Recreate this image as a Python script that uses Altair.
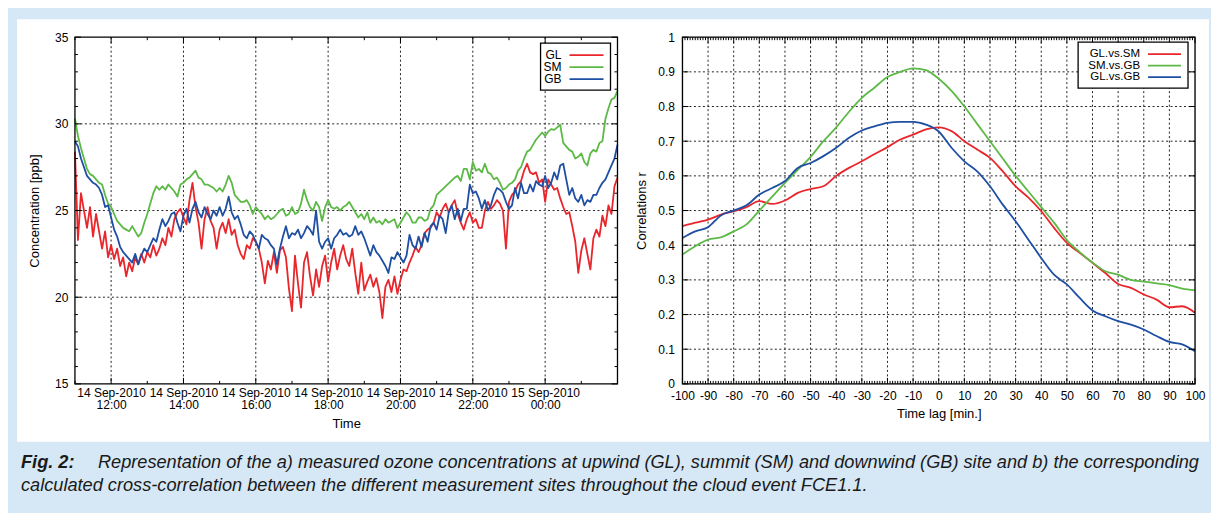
import altair as alt
import pandas as pd

# ---------------- colours ----------------
BG = "#d6e8f5"
RED, GREEN, BLUE = "#e8262b", "#5cb946", "#1f4fa3"

# ---------------- panel a: ozone concentrations (5-min samples from 11:00) ----------------
SITES = ["GL", "SM", "GB"]
SITE_COLORS = [RED, GREEN, BLUE]
START = "2010-09-14 11:00"
STEP = "5min"

GL = [28.4, 23.3, 26.0, 25.0, 24.0, 25.2, 23.5, 24.8, 23.8, 22.8,
      23.8, 22.3, 23.0, 22.2, 22.8, 21.8, 22.3, 21.2, 22.0, 21.5,
      22.3, 21.9, 22.5, 22.0, 22.6, 22.3, 23.0, 22.4, 22.8, 23.4,
      23.0, 24.0, 23.5, 24.5, 24.9, 25.1, 24.6, 24.2, 25.6, 26.6,
      25.2, 24.3, 22.8, 24.5, 25.2, 24.4, 24.0, 22.8, 23.9, 24.3,
      23.7, 24.5, 23.6, 23.9, 23.0, 22.5, 22.2, 23.0, 22.8, 23.4,
      23.2, 22.8, 22.0, 20.8, 22.1, 21.6, 22.6, 21.4, 22.7, 22.9,
      22.3, 20.5, 19.2, 22.4, 20.8, 19.4, 22.0, 22.6, 21.2, 20.1,
      21.6, 20.6, 21.8, 22.4, 20.9, 22.0, 22.8, 21.6, 22.4, 23.0,
      22.2, 21.8, 22.8, 21.4, 20.2, 22.0, 20.4, 20.9, 21.3, 20.6,
      21.1, 20.3, 18.8, 20.6, 21.0, 20.3, 21.2, 20.2, 21.0, 21.6,
      21.5, 22.0, 22.4, 22.9, 22.6, 23.0, 23.7, 23.9, 24.0, 24.3,
      24.9, 24.6, 25.1, 25.4, 24.9, 25.3, 25.6, 24.8, 24.3, 23.9,
      24.5, 24.9, 24.3, 24.5, 24.0, 24.0, 25.0, 25.5, 25.1, 25.3,
      25.6, 25.4, 25.0, 22.8, 25.5, 25.9, 26.1, 26.5, 26.7, 27.3,
      27.7, 27.2, 27.1, 27.2, 26.6, 26.8, 25.5, 26.8, 26.5, 26.2,
      26.3, 25.7, 25.2, 24.8, 24.9, 24.1, 23.2, 21.4, 22.7, 23.4,
      22.5, 21.6, 23.4, 23.9, 23.5, 24.7, 24.1, 25.3, 24.8, 26.4,
      26.9]

SM = [30.3, 29.3, 28.6, 28.0, 27.4, 27.1, 27.0, 26.8, 26.6, 26.5,
      25.9, 25.4, 25.2, 24.8, 24.4, 24.2, 24.0, 23.9, 23.8, 24.1,
      23.8, 23.5, 23.7, 24.3, 24.8, 25.4, 26.0, 26.4, 26.2, 26.4,
      26.2, 26.5, 26.3, 26.1, 25.8, 26.5, 26.6, 26.8, 26.9, 27.1,
      27.3, 26.9, 26.8, 26.5, 26.5, 26.4, 26.3, 26.1, 26.3, 26.1,
      26.5, 27.0, 26.6, 25.9, 25.7, 25.5, 25.5, 25.6, 25.3, 24.8,
      25.2, 25.0, 24.8, 24.5, 24.7, 24.5, 24.6, 24.8, 25.0, 25.1,
      24.7, 24.8, 25.2, 24.8, 24.9, 25.4, 26.2, 25.6, 25.2, 25.0,
      25.5, 25.2, 24.4, 25.2, 25.6, 25.2, 25.1, 25.2, 25.0, 25.2,
      25.3, 25.5, 25.2, 24.9, 24.6, 24.8, 24.5, 24.9, 24.3, 24.6,
      24.3, 24.4, 24.2, 24.5, 24.3, 24.4, 24.5, 24.0, 24.3, 24.6,
      24.9, 24.7, 24.3, 24.3, 24.6, 24.6, 24.4, 24.5, 25.1, 25.3,
      25.9, None, None, None, None, None, 26.9, 27.0, 26.7, 27.4,
      27.4, 26.8, 27.8, 27.3, 27.4, 27.2, 27.7, 27.2, 27.1, 26.8,
      26.9, 26.6, 26.2, 26.3, 26.5, 26.6, 26.8, 27.3, 27.5, 28.0,
      28.4, 28.5, 28.8, 29.1, 29.3, 29.5, 29.3, 29.55, 29.7, 29.65,
      29.8, 29.95, 28.9, 28.7, 28.5, 28.4, 28.0, 28.1, 28.3, 27.8,
      27.6, 28.3, 28.5, 28.4, 28.9, 29.0, 30.3, 30.9, 31.4, 31.5,
      31.9]

GB = [29.0, 28.7, 28.0, 27.5, 27.0, 26.8, 26.6, 26.5, 26.3, 25.9,
      25.2, 25.3, 24.6, 23.9, 23.5, 22.9, 22.6, 22.4, 22.2, 22.0,
      22.5, 21.9, 22.4, 22.8, 22.6, 23.0, 23.4, 23.2, 23.9, 24.5,
      24.1, 24.4, 24.8, 24.9, 24.3, 23.8, 24.7, 25.1, 24.3, 25.1,
      25.5, 24.9, 24.6, 25.2, 24.8, 24.5, 25.0, 24.7, 25.2, 24.7,
      25.1, 25.8, 24.9, 24.5, 24.7, 24.2, 23.6, 23.4, 23.8, 23.6,
      23.2, 22.8, 23.6, 23.4, 23.3, 23.0, 22.8, 21.9, 22.8, 23.5,
      24.1, 23.4, 23.7, 23.6, 23.9, 23.4, 23.7, 24.1, 23.9, 23.6,
      25.0, 23.2, 22.8, 23.2, 23.4, 22.8, 23.4, 23.6, 23.9, 23.6,
      23.7, 23.5, 23.6, 24.1, 23.6, 23.8, 23.4, 22.9, 22.4, 23.0,
      22.6, 22.4, 22.1, 21.8, 21.4, 22.3, 22.2, 22.6, 22.3, 22.0,
      22.4, 23.6, 23.0, 22.8, 23.5, 22.9, 23.7, 23.2, 24.1, 24.3,
      23.9, 24.7, 24.5, 23.7, 24.9, 25.3, 24.5, 25.1, 24.4, 25.1,
      25.1, 26.5, 26.0, 26.1, 25.7, 25.1, 25.6, 25.0, 25.3, 25.9,
      26.3, 26.2, 26.0, 25.5, 25.1, 25.3, 26.3, 25.7, 26.6, 26.0,
      26.0, 26.5, 26.1, 26.7, 26.5, 26.4, 27.0, 26.3, 26.6, 27.2,
      26.8, 27.6, 27.7, 26.8, 25.9, 26.3, 25.7, 25.5, 25.9, 25.3,
      25.6, 25.5, 25.9, 25.9, 26.3, 26.6, 26.8, 27.2, 27.6, 28.0,
      28.8]

TIME_DOMAIN = ["2010-09-14 11:00", "2010-09-15 02:00"]
TIME_MAJOR = ["2010-09-14 12:00", "2010-09-14 14:00", "2010-09-14 16:00",
              "2010-09-14 18:00", "2010-09-14 20:00", "2010-09-14 22:00",
              "2010-09-15 00:00"]
TIME_MINOR = ["2010-09-14 11:00", "2010-09-14 13:00", "2010-09-14 15:00",
              "2010-09-14 17:00", "2010-09-14 19:00", "2010-09-14 21:00",
              "2010-09-14 23:00", "2010-09-15 01:00", "2010-09-15 02:00"]
CONC_MAJOR = [15, 20, 25, 30, 35]
CONC_MINOR = [16, 17, 18, 19, 21, 22, 23, 24, 26, 27, 28, 29, 31, 32, 33, 34]

# ---------------- panel b: cross-correlations ----------------
PAIRS = ["GL.vs.SM", "SM.vs.GB", "GL.vs.GB"]
PAIR_COLORS = [RED, GREEN, BLUE]
LAGS = list(range(-100, 101, 5))
R_GL_SM = [0.455, 0.465, 0.474, 0.488, 0.498, 0.510, 0.527, 0.519, 0.529, 0.551,
           0.562, 0.570, 0.600, 0.623, 0.642, 0.663, 0.683, 0.705, 0.719, 0.734,
           0.740, 0.729, 0.700, 0.676, 0.652, 0.613, 0.570, 0.537, 0.498, 0.450,
           0.407, 0.378, 0.349, 0.320, 0.288, 0.277, 0.258, 0.243, 0.221, 0.224,
           0.205]
R_SM_GB = [0.373, 0.397, 0.416, 0.423, 0.440, 0.460, 0.500, 0.540, 0.580, 0.617,
           0.655, 0.700, 0.740, 0.785, 0.825, 0.855, 0.885, 0.900, 0.910, 0.905,
           0.880, 0.845, 0.800, 0.750, 0.700, 0.650, 0.600, 0.555, 0.510, 0.465,
           0.415, 0.380, 0.350, 0.325, 0.315, 0.300, 0.295, 0.290, 0.285, 0.275,
           0.270]
R_GL_GB = [0.421, 0.440, 0.452, 0.486, 0.500, 0.515, 0.546, 0.565, 0.585, 0.623,
           0.637, 0.657, 0.681, 0.710, 0.731, 0.743, 0.753, 0.756, 0.756, 0.748,
           0.728, 0.681, 0.642, 0.613, 0.570, 0.517, 0.469, 0.416, 0.363, 0.315,
           0.287, 0.248, 0.212, 0.195, 0.181, 0.171, 0.157, 0.138, 0.121, 0.114,
           0.094]
LAG_MAJOR = list(range(-100, 101, 10))
LAG_MINOR = [v for v in range(-100, 101) if v % 10 != 0]
R_MAJOR = [0, 0.1, 0.2, 0.3, 0.4, 0.5, 0.6, 0.7, 0.8, 0.9, 1]

CAPTION_LEAD = "Fig. 2:"
CAPTION_1 = ("Representation of the a) measured ozone concentrations at upwind (GL), "
             "summit (SM) and downwind (GB) site and b) the corresponding")
CAPTION_2 = ("calculated cross-correlation between the different measurement sites "
             "throughout the cloud event FCE1.1.")

# ---------------- geometry / style ----------------
W1, W2, H = 543, 513, 347
GAP = 65
TMAJ, TMIN = 6, 3
FONT = "Liberation Sans"
GRID_DASH = [2, 2.5]
LW = 1.8
CAP_SIZE = 18.2


def iso(s):
    return pd.Timestamp(s).strftime("%Y-%m-%dT%H:%M:%S")


def dt(s):
    t = pd.Timestamp(s)
    return alt.DateTime(year=t.year, month=t.month, date=t.day, hours=t.hour, minutes=t.minute)


one = pd.DataFrame({"k": [0]})

# ---- panel a data frames
times = pd.date_range(START, periods=len(GL), freq=STEP).strftime("%Y-%m-%dT%H:%M:%S")
series = {"GL": GL, "SM": SM, "GB": GB}

xs_a = alt.Scale(domain=[dt(TIME_DOMAIN[0]), dt(TIME_DOMAIN[1])], nice=False)
ys_a = alt.Scale(domain=[15, 35], nice=False)
x_axis_a = alt.Axis(values=[dt(s) for s in TIME_MAJOR],
                    labelExpr="[timeFormat(datum.value, '%d %b-%Y'), timeFormat(datum.value, '%H:%M')]",
                    labelLineHeight=12, labelPadding=4, labelFontSize=12, labelColor="black",
                    labelOverlap=False, labelFlush=False, labelBound=False,
                    ticks=False, domain=False, grid=False, zindex=1,
                    title="Time", titleFontSize=13, titleFontWeight="normal", titleColor="black",
                    titleX=W1 / 2, titleY=40, titleBaseline="middle", titleAlign="center")
y_axis_a = alt.Axis(values=CONC_MAJOR, labelPadding=7, labelFontSize=12, labelColor="black",
                    labelFlush=False, ticks=False, domain=False, grid=False, zindex=1,
                    title="Concentration [ppb]", titleFontSize=13, titleFontWeight="normal",
                    titleColor="black", titleX=-40, titleY=H / 2, titleAngle=270,
                    titleBaseline="middle", titleAlign="center")


def X_a(field="time"):
    return alt.X(f"{field}:T", scale=xs_a, axis=x_axis_a)


def Y_a(field="value"):
    return alt.Y(f"{field}:Q", scale=ys_a, axis=y_axis_a)


layers_a = []
# white figure panel behind both plots
layers_a.append(alt.Chart(one).mark_rect(fill="white").encode(
    x=alt.value(-58), x2=alt.value(1135), y=alt.value(-18), y2=alt.value(405)))
# grid
layers_a.append(alt.Chart(pd.DataFrame({"time": [iso(s) for s in TIME_MAJOR]})).mark_rule(
    color="#222", strokeWidth=1, strokeDash=GRID_DASH).encode(x=X_a()))
layers_a.append(alt.Chart(pd.DataFrame({"value": [20, 25, 30]})).mark_rule(
    color="#222", strokeWidth=1, strokeDash=GRID_DASH).encode(y=Y_a()))
# data lines
for site, col in zip(SITES, SITE_COLORS):
    rows = [{"time": t, "value": v} for t, v in zip(times, series[site]) if v is not None]
    layers_a.append(alt.Chart(pd.DataFrame(rows)).mark_line(
        color=col, strokeWidth=LW, strokeJoin="round").encode(x=X_a(), y=Y_a()))
# inward ticks
for vals, ln in ((CONC_MAJOR, TMAJ), (CONC_MINOR, TMIN)):
    d = pd.DataFrame({"value": vals})
    layers_a.append(alt.Chart(d).mark_rule(color="black", strokeWidth=1).encode(
        y=Y_a(), x=alt.value(0), x2=alt.value(ln)))
    layers_a.append(alt.Chart(d).mark_rule(color="black", strokeWidth=1).encode(
        y=Y_a(), x=alt.value(W1 - ln), x2=alt.value(W1)))
for vals, ln in ((TIME_MAJOR, TMAJ), (TIME_MINOR, TMIN)):
    d = pd.DataFrame({"time": [iso(s) for s in vals]})
    layers_a.append(alt.Chart(d).mark_rule(color="black", strokeWidth=1).encode(
        x=X_a(), y=alt.value(0), y2=alt.value(ln)))
    layers_a.append(alt.Chart(d).mark_rule(color="black", strokeWidth=1).encode(
        x=X_a(), y=alt.value(H - ln), y2=alt.value(H)))
# frame
layers_a.append(alt.Chart(one).mark_rect(fill="transparent", stroke="black", strokeWidth=1.3).encode(
    x=alt.value(0), x2=alt.value(W1), y=alt.value(0), y2=alt.value(H)))
# key
layers_a.append(alt.Chart(one).mark_rect(fill="white", stroke="black", strokeWidth=1.3).encode(
    x=alt.value(466), x2=alt.value(536), y=alt.value(6), y2=alt.value(53)))
for k, (site, col) in enumerate(zip(SITES, SITE_COLORS)):
    yy = 18 + 12 * k
    layers_a.append(alt.Chart(pd.DataFrame({"label": [site]})).mark_text(
        align="right", baseline="middle", fontSize=12, color="black").encode(
        text="label:N", x=alt.value(487), y=alt.value(yy)))
    layers_a.append(alt.Chart(one).mark_rule(color=col, strokeWidth=LW).encode(
        x=alt.value(495), x2=alt.value(529), y=alt.value(yy)))
# caption
layers_a.append(alt.Chart(pd.DataFrame({"c": [CAPTION_LEAD]})).mark_text(
    align="left", baseline="alphabetic", fontSize=CAP_SIZE, fontStyle="italic", fontWeight="bold",
    color="#1a1a1a").encode(text="c:N", x=alt.value(-54), y=alt.value(431)))
layers_a.append(alt.Chart(pd.DataFrame({"c": [CAPTION_1]})).mark_text(
    align="left", baseline="alphabetic", fontSize=CAP_SIZE, fontStyle="italic",
    color="#1a1a1a").encode(text="c:N", x=alt.value(23), y=alt.value(431)))
layers_a.append(alt.Chart(pd.DataFrame({"c": [CAPTION_2]})).mark_text(
    align="left", baseline="alphabetic", fontSize=CAP_SIZE, fontStyle="italic",
    color="#1a1a1a").encode(text="c:N", x=alt.value(-54), y=alt.value(454)))

panel_a = alt.layer(*layers_a).properties(width=W1, height=H)

# ---- panel b
xs_b = alt.Scale(domain=[-100, 100], nice=False)
ys_b = alt.Scale(domain=[0, 1], nice=False)
x_axis_b = alt.Axis(values=LAG_MAJOR, labelExpr="'' + datum.value", labelPadding=7,
                    labelFontSize=12, labelColor="black", labelOverlap=False, labelFlush=False,
                    labelBound=False, ticks=False, domain=False, grid=False, zindex=1,
                    title="Time lag [min.]", titleFontSize=13, titleFontWeight="normal",
                    titleColor="black", titleX=W2 / 2, titleY=30, titleBaseline="middle",
                    titleAlign="center")
y_axis_b = alt.Axis(values=R_MAJOR, labelExpr="'' + datum.value", labelPadding=8,
                    labelFontSize=12, labelColor="black", labelFlush=False, ticks=False,
                    domain=False, grid=False, zindex=1, title="Correlations r", titleFontSize=13,
                    titleFontWeight="normal", titleColor="black", titleX=-41, titleY=H / 2,
                    titleAngle=270, titleBaseline="middle", titleAlign="center")


def X_b():
    return alt.X("lag:Q", scale=xs_b, axis=x_axis_b)


def Y_b():
    return alt.Y("r:Q", scale=ys_b, axis=y_axis_b)


corr = {"GL.vs.SM": R_GL_SM, "SM.vs.GB": R_SM_GB, "GL.vs.GB": R_GL_GB}
layers_b = []
layers_b.append(alt.Chart(pd.DataFrame({"lag": LAG_MAJOR[1:-1]})).mark_rule(
    color="#222", strokeWidth=1, strokeDash=GRID_DASH).encode(x=X_b()))
layers_b.append(alt.Chart(pd.DataFrame({"r": R_MAJOR[1:-1]})).mark_rule(
    color="#222", strokeWidth=1, strokeDash=GRID_DASH).encode(y=Y_b()))
for pair, col in zip(PAIRS, PAIR_COLORS):
    layers_b.append(alt.Chart(pd.DataFrame({"lag": LAGS, "r": corr[pair]})).mark_line(
        color=col, strokeWidth=LW, interpolate="monotone").encode(x=X_b(), y=Y_b()))
d = pd.DataFrame({"r": R_MAJOR})
layers_b.append(alt.Chart(d).mark_rule(color="black", strokeWidth=1).encode(
    y=Y_b(), x=alt.value(0), x2=alt.value(TMAJ)))
layers_b.append(alt.Chart(d).mark_rule(color="black", strokeWidth=1).encode(
    y=Y_b(), x=alt.value(W2 - TMAJ), x2=alt.value(W2)))
for vals, ln in ((LAG_MAJOR, TMAJ), (LAG_MINOR, TMIN)):
    d = pd.DataFrame({"lag": vals})
    layers_b.append(alt.Chart(d).mark_rule(color="black", strokeWidth=1).encode(
        x=X_b(), y=alt.value(0), y2=alt.value(ln)))
    layers_b.append(alt.Chart(d).mark_rule(color="black", strokeWidth=1).encode(
        x=X_b(), y=alt.value(H - ln), y2=alt.value(H)))
layers_b.append(alt.Chart(one).mark_rect(fill="transparent", stroke="black", strokeWidth=1.3).encode(
    x=alt.value(0), x2=alt.value(W2), y=alt.value(0), y2=alt.value(H)))
layers_b.append(alt.Chart(one).mark_rect(fill="white", stroke="black", strokeWidth=1.3).encode(
    x=alt.value(396), x2=alt.value(506), y=alt.value(5), y2=alt.value(51)))
for k, (pair, col) in enumerate(zip(PAIRS, PAIR_COLORS)):
    yy = 17 + 11.5 * k
    layers_b.append(alt.Chart(pd.DataFrame({"label": [pair]})).mark_text(
        align="right", baseline="middle", fontSize=11.5, color="black").encode(
        text="label:N", x=alt.value(458), y=alt.value(yy)))
    layers_b.append(alt.Chart(one).mark_rule(color=col, strokeWidth=LW).encode(
        x=alt.value(466), x2=alt.value(499), y=alt.value(yy)))

panel_b = alt.layer(*layers_b).properties(width=W2, height=H)

chart = alt.hconcat(panel_a, panel_b, spacing=GAP, bounds="flush").properties(
    padding={"left": 8, "top": 10, "right": 1, "bottom": 18},
    background=BG,
).configure_view(stroke=None).configure(font=FONT)

chart.save("out.html", embed_options={"renderer": "svg", "actions": False})
